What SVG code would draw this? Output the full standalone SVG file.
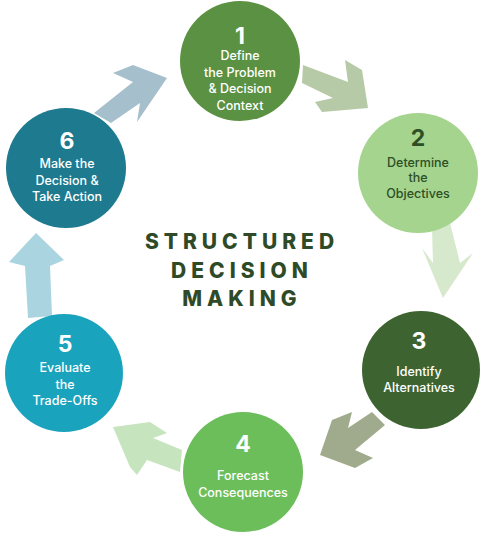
<svg xmlns="http://www.w3.org/2000/svg" width="483" height="537" viewBox="0 0 483 537">
<style>
.lbl{font-family:Inter,"Open Sans","Liberation Sans",sans-serif;font-size:12.5px;font-weight:500;text-anchor:middle;fill:#ffffff}
.num{font-family:Inter,"Open Sans","Liberation Sans",sans-serif;font-size:23px;font-weight:700;text-anchor:middle;fill:#ffffff}
.dark{fill:#2e4f26}
.title{font-family:Inter,"Open Sans",sans-serif;font-size:21px;font-weight:800;text-anchor:middle;fill:#2e4a26;letter-spacing:5px}
</style>
<rect width="483" height="537" fill="#ffffff"/>
<g id="connectors">
<polygon id="a61" fill="#a6bfcd" points="94,113 133,82 113,73 133,65 167,78 137,122 140,103 111,123"/>
<polygon id="a12" fill="#b7caa7" points="303,65 348,82 345,60 362,70 368,108 322,112 315,102 333,98 302,83"/>
<polygon id="a23" fill="#d6e9cd" points="432,228 450,223 460,263 473,253 443,298 422,248 433,263"/>
<polygon id="a34" fill="#a0ab8d" points="372,412 385,425 355,450 373,458 355,468 320,455 332,420 352,412 348,428"/>
<polygon id="a45" fill="#c6e4be" points="113,427 150,422 167,433 153,438 182,450 180,472 147,460 137,475 130,467"/>
<polygon id="a56" fill="#abd4e1" points="28,318 25,266 9,262 36,233 64,260 50,266 52,316"/>
</g>
<g id="n1"><circle cx="240" cy="61" r="60" fill="#5b9142"/>
<text class="num" x="240" y="44">1</text>
<text class="lbl" x="240" y="60">Define</text><text class="lbl" x="240" y="76.5">the Problem</text><text class="lbl" x="240" y="93">&amp; Decision</text><text class="lbl" x="240" y="109.5">Context</text></g>
<g id="n2"><circle cx="418" cy="173" r="60" fill="#a4d48e"/>
<text class="num dark" x="418" y="146">2</text>
<text class="lbl dark" x="418" y="166.5">Determine</text><text class="lbl dark" x="418" y="182">the</text><text class="lbl dark" x="418" y="197.5">Objectives</text></g>
<g id="n3"><circle cx="421" cy="370" r="59" fill="#3d6430"/>
<text class="num" x="419" y="349">3</text>
<text class="lbl" x="419" y="376">Identify</text><text class="lbl" x="419" y="392">Alternatives</text></g>
<g id="n4"><circle cx="243" cy="472" r="60" fill="#6cbe5b"/>
<text class="num" x="243" y="452">4</text>
<text class="lbl" x="243" y="480">Forecast</text><text class="lbl" x="243" y="497">Consequences</text></g>
<g id="n5"><circle cx="64" cy="373" r="59" fill="#1aa3bd"/>
<text class="num" x="65" y="352">5</text>
<text class="lbl" x="65" y="372">Evaluate</text><text class="lbl" x="65" y="388.5">the</text><text class="lbl" x="65" y="405">Trade-Offs</text></g>
<g id="n6"><circle cx="66" cy="168" r="60" fill="#1d7a8f"/>
<text class="num" x="67" y="149">6</text>
<text class="lbl" x="67" y="168">Make the</text><text class="lbl" x="67" y="184.5">Decision &amp;</text><text class="lbl" x="67" y="201">Take Action</text></g>
<g id="title">
<text class="title" x="242" y="249">STRUCTURED</text>
<text class="title" x="242" y="278">DECISION</text>
<text class="title" x="242" y="306">MAKING</text>
</g>
</svg>
